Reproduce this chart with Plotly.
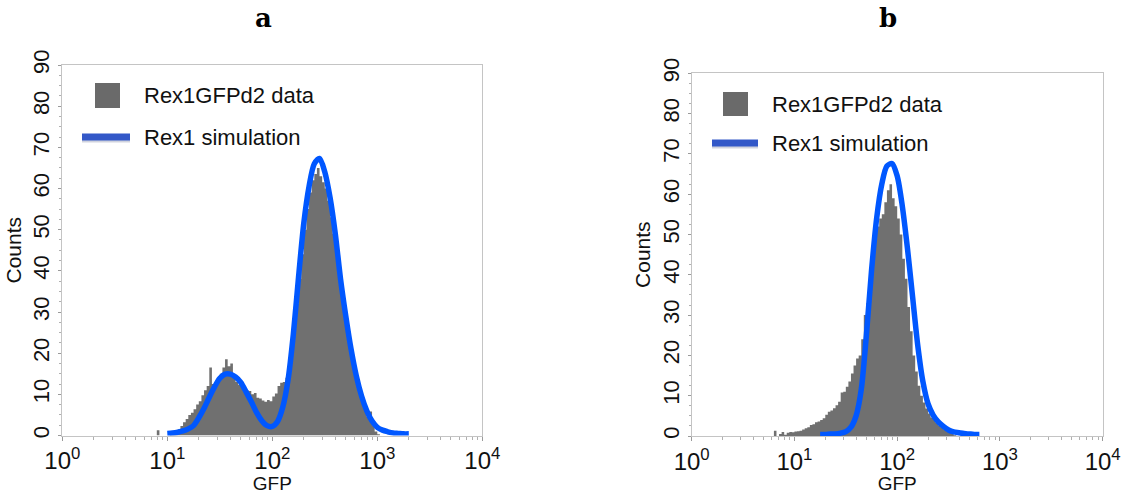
import numpy as np
import plotly.graph_objects as go

# ---------------- data ----------------
BIN_STEP = 0.025          # histogram bin width, in decades of GFP
CURVE_STEP = 0.05         # sampling step of the simulated density, in decades

# panel a: Rex1GFPd2 counts per bin, first bin starts at 10^0.85
a_bin_start = 0.85
a_counts = [
    0, 0, 1.3, 0, 0, 0, 0, 0.3, 0.5, 1.0,
    1.5, 2.3, 3.2, 4.0, 5.0, 5.5, 6.4, 7.5, 8.3, 9.8,
    11.0, 12.0, 16.5, 12.5, 13.0, 13.8, 15.0, 16.5, 18.5, 16.8,
    17.5, 14.0, 13.0, 12.3, 12.5, 11.8, 11.0, 10.8, 10.0, 10.3,
    9.2, 9.0, 8.5, 8.2, 8.6, 8.3, 9.5, 10.2, 12.0, 12.8,
    13.0, 14.0, 17.0, 22.0, 27.0, 32.0, 38.0, 44.0, 50.0, 55.0,
    59.0, 62.0, 63.5, 65.0, 63.0, 61.5, 60.0, 57.0, 53.0, 49.0,
    45.0, 40.0, 36.0, 31.0, 27.0, 23.0, 19.5, 16.0, 12.5, 10.0,
    8.0, 6.0, 4.5, 5.8, 2.5, 1.0, 0.3,
]

# panel a: Rex1 simulation, first sample at 10^1.0
a_sim_start = 1.0
a_sim = [
    0.5, 0.6, 0.8, 1.1, 1.6, 2.4, 4.3, 6.6, 9.3, 11.8,
    13.9, 14.9, 14.9, 14.2, 12.9, 10.6, 8.2, 5.6, 3.6, 2.4,
    2.2, 3.4, 6.9, 13.5, 24.5, 38.5, 51.6, 60.5, 66.0, 67.3,
    64.0, 57.8, 49.0, 38.0, 29.0, 21.0, 14.5, 9.6, 6.0, 3.5,
    2.0, 1.3, 0.9, 0.6, 0.5, 0.4, 0.4,
]

# panel b: Rex1GFPd2 counts per bin, first bin starts at 10^0.75
b_bin_start = 0.75
b_counts = [
    0, 0, 1.3, 0, 0.5, 1.0, 0.3, 0.8, 1.0, 0.9,
    1.1, 1.2, 1.3, 1.6, 1.9, 2.2, 2.7, 2.9, 3.4, 3.6,
    4.0, 4.4, 5.3, 6.0, 6.3, 6.9, 7.6, 8.5, 10.8, 11.0,
    12.2, 13.5, 15.5, 17.5, 19.2, 20.0, 24.0, 30.0, 33.0, 37.0,
    44.0, 50.0, 52.0, 54.0, 55.0, 58.0, 61.0, 62.5, 59.0, 57.0,
    54.0, 50.0, 44.0, 39.0, 32.0, 26.0, 20.0, 16.0, 12.5, 10.0,
    8.3, 6.8, 5.6, 4.6, 4.0, 3.2, 2.6, 2.1, 1.7, 1.5,
    1.0, 0.5, 0.2,
]

# panel b: Rex1 simulation, first sample at 10^1.25
b_sim_start = 1.25
b_sim = [
    0.4, 0.4, 0.5, 0.5, 0.7, 1.1, 2.2, 5.0, 11.5, 25.0,
    41.0, 54.0, 62.5, 67.0, 67.6, 64.5, 57.0, 46.5, 34.5, 22.5,
    13.5, 8.0, 5.2, 3.5, 2.4, 1.5, 1.0, 0.8, 0.6, 0.5,
    0.4, 0.4,
]

x_tick_vals = [1, 10, 100, 1000, 10000]
x_tick_text = ["10<sup>0</sup>", "10<sup>1</sup>", "10<sup>2</sup>",
               "10<sup>3</sup>", "10<sup>4</sup>"]
y_tick_vals = [0, 10, 20, 30, 40, 50, 60, 70, 80, 90]

legend_labels = ["Rex1GFPd2 data", "Rex1 simulation"]
panel_labels = ["a", "b"]

# ---------------- styling ----------------
W, H = 1123, 494
HIST_COLOR = "#707070"
SIM_COLOR = "#0057ff"
LEGEND_LINE_COLOR = "#3358c8"
FRAME_COLOR = "#c4c4c4"
FONT = "Liberation Sans, Arial, sans-serif"


def px_x(p):
    return p / W


def px_y(p):
    return (H - p) / H


def step_xy(start, counts):
    edges = 10 ** (start + BIN_STEP * np.arange(len(counts) + 1))
    ys = list(counts) + [counts[-1]]
    return edges, ys


def curve_x(start, values):
    return 10 ** (start + CURVE_STEP * np.arange(len(values)))


fig = go.Figure()

panels = [
    dict(xa="x", ya="y", bin_start=a_bin_start, counts=a_counts,
         sim_start=a_sim_start, sim=a_sim),
    dict(xa="x2", ya="y2", bin_start=b_bin_start, counts=b_counts,
         sim_start=b_sim_start, sim=b_sim),
]

for p in panels:
    hx, hy = step_xy(p["bin_start"], p["counts"])
    fig.add_trace(go.Scatter(
        x=hx, y=hy, mode="lines", line=dict(shape="hv", width=0, color=HIST_COLOR),
        fill="tozeroy", fillcolor=HIST_COLOR, xaxis=p["xa"], yaxis=p["ya"],
        showlegend=False, hoverinfo="skip"))
    fig.add_trace(go.Scatter(
        x=curve_x(p["sim_start"], p["sim"]), y=p["sim"], mode="lines",
        line=dict(color=SIM_COLOR, width=5.5, shape="spline", smoothing=0.8),
        xaxis=p["xa"], yaxis=p["ya"], showlegend=False, hoverinfo="skip"))

# plot-area pixel boxes: (left, right, top, bottom)
boxes = [(62.3, 482.3, 65.0, 435.5), (691.7, 1102.7, 73.3, 436.0)]

axis_common_x = dict(
    type="log", range=[0, 4], tickvals=x_tick_vals, ticktext=x_tick_text,
    ticks="outside", ticklen=4, tickcolor="#9a9a9a",
    minor=dict(ticks="outside", ticklen=3, tickcolor="#b0b0b0", dtick="D1"),
    showline=True, linecolor=FRAME_COLOR, linewidth=1.2, mirror=True,
    showgrid=False, zeroline=False,
    tickfont=dict(family=FONT, size=24, color="#111"),
    title=dict(text="GFP", font=dict(family=FONT, size=19, color="#111"), standoff=0),
    automargin=False,
)
axis_common_y = dict(
    range=[0, 90], tickvals=y_tick_vals, tickangle=-90,
    ticks="outside", ticklen=3, tickcolor="#9a9a9a",
    minor=dict(ticks="outside", ticklen=2, tickcolor="#b0b0b0", dtick=2.5),
    showline=True, linecolor=FRAME_COLOR, linewidth=1.2, mirror=True,
    showgrid=False, zeroline=False,
    tickfont=dict(family=FONT, size=22, color="#111"),
    title=dict(text="Counts", font=dict(family=FONT, size=21, color="#111"), standoff=2),
    automargin=False,
)

(l1, r1, t1, b1), (l2, r2, t2, b2) = boxes
fig.update_layout(
    width=W, height=H, margin=dict(l=0, r=0, t=0, b=0),
    paper_bgcolor="white", plot_bgcolor="white", showlegend=False,
    xaxis=dict(axis_common_x, domain=[px_x(l1), px_x(r1)], anchor="y"),
    yaxis=dict(axis_common_y, domain=[px_y(b1), px_y(t1)], anchor="x"),
    xaxis2=dict(axis_common_x, domain=[px_x(l2), px_x(r2)], anchor="y2"),
    yaxis2=dict(axis_common_y, domain=[px_y(b2), px_y(t2)], anchor="x2"),
)

# hand-drawn legends inside each panel
legend_pos = [
    dict(sq=(95, 120, 83, 108), ln=(82, 130, 137), tx=142, ty=(96, 137)),
    dict(sq=(723, 748, 92, 116), ln=(712, 758, 143), tx=770, ty=(104, 143)),
]
shapes = []
annotations = []
for lp in legend_pos:
    x0, x1, y0, y1 = lp["sq"]
    shapes.append(dict(type="rect", xref="paper", yref="paper",
                       x0=px_x(x0), x1=px_x(x1), y0=px_y(y1), y1=px_y(y0),
                       fillcolor="#6a6a6a", line=dict(width=0)))
    lx0, lx1, ly = lp["ln"]
    shapes.append(dict(type="line", xref="paper", yref="paper",
                       x0=px_x(lx0), x1=px_x(lx1), y0=px_y(ly + 1.5), y1=px_y(ly + 1.5),
                       line=dict(color="rgba(120,130,160,0.35)", width=8)))
    shapes.append(dict(type="line", xref="paper", yref="paper",
                       x0=px_x(lx0), x1=px_x(lx1), y0=px_y(ly), y1=px_y(ly),
                       line=dict(color=LEGEND_LINE_COLOR, width=7)))
    for label, ty in zip(legend_labels, lp["ty"]):
        annotations.append(dict(xref="paper", yref="paper", x=px_x(lp["tx"]), y=px_y(ty),
                                xanchor="left", yanchor="middle", showarrow=False,
                                text=label, font=dict(family=FONT, size=22, color="#111")))

for label, cx in zip(panel_labels, [263, 888]):
    annotations.append(dict(xref="paper", yref="paper", x=px_x(cx), y=px_y(18),
                            xanchor="center", yanchor="middle", showarrow=False,
                            text=f"<b>{label}</b>",
                            font=dict(family="DejaVu Serif, serif", size=26, color="#000")))

fig.update_layout(shapes=shapes, annotations=annotations)

fig.write_html("out.html")
